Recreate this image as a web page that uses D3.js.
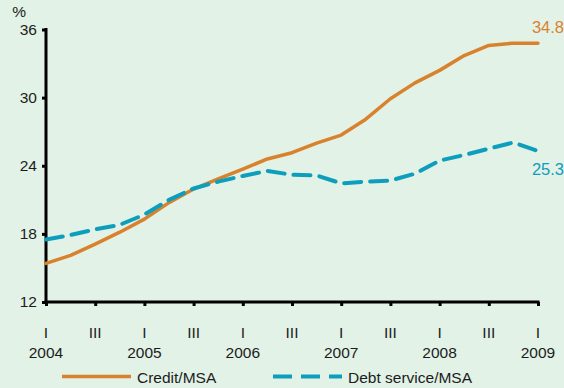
<!DOCTYPE html>
<html><head><meta charset="utf-8">
<script src="https://cdn.jsdelivr.net/npm/d3@7"></script>
<style>
html,body{margin:0;padding:0;background:#e2f2e6;}
svg{display:block;font-family:"Liberation Sans",Arial,sans-serif;}
</style></head>
<body><svg id="c" width="564" height="388"></svg>
<script>
const quarters = d3.range(21); // 2004 Q1 .. 2009 Q1
const credit = [15.4,16.1,17.1,18.15,19.3,20.75,21.95,22.85,23.7,24.6,25.15,26.0,26.7,28.1,29.9,31.3,32.4,33.7,34.6,34.8,34.8];
const debt = [17.5,17.9,18.4,18.8,19.7,21.0,22.0,22.6,23.1,23.55,23.2,23.15,22.45,22.6,22.7,23.3,24.45,24.95,25.5,26.05,25.3];
const yTicks = [12,18,24,30,36];
const qLabels = ["I","III","I","III","I","III","I","III","I","III","I"];
const yearLabels = ["2004","","2005","","2006","","2007","","2008","","2009"];
const seriesNames = ["Credit/MSA","Debt service/MSA"];
const colors = ["#d9822e","#0e9ebd"];

const FS = 15.5;
const TXT = "#1c1c1c";
const svg = d3.select("#c");
const x = d3.scaleLinear().domain([0,20]).range([46,538]);
const y = d3.scaleLinear().domain([12,36]).range([302,29.5]);

// y axis
const yAx = svg.append("g").attr("transform","translate(46,0)")
  .call(d3.axisLeft(y).tickValues(yTicks).tickSize(4).tickPadding(5));
yAx.select(".domain").remove();
yAx.selectAll("line").attr("stroke","#000").attr("stroke-width",3);
yAx.selectAll("text").attr("font-size",FS).attr("fill",TXT).attr("font-family","Liberation Sans, Arial");
svg.append("line").attr("x1",46).attr("x2",46).attr("y1",y(36)-1.5).attr("y2",y(12)+1.5)
  .attr("stroke","#000").attr("stroke-width",3);
svg.append("text").attr("x",26).attr("y",17).attr("text-anchor","end")
  .attr("font-size",FS).attr("fill",TXT).text("%");

// x axis
const tickQ = d3.range(0,21,2);
const xAx = svg.append("g").attr("transform","translate(0,302)")
  .call(d3.axisBottom(x).tickValues(tickQ).tickSize(4).tickFormat(""));
xAx.select(".domain").remove();
xAx.selectAll("line").attr("stroke","#000").attr("stroke-width",3);
svg.append("line").attr("x1",44.5).attr("x2",539.5).attr("y1",302).attr("y2",302)
  .attr("stroke","#000").attr("stroke-width",3);
svg.selectAll(".ql").data(tickQ).enter().append("text")
  .attr("x",d=>x(d)).attr("y",338).attr("text-anchor","middle")
  .attr("font-size",FS).attr("fill",TXT).text((d,i)=>qLabels[i]);
svg.selectAll(".yl").data(tickQ).enter().append("text")
  .attr("x",d=>x(d)).attr("y",358).attr("text-anchor","middle")
  .attr("font-size",FS).attr("fill",TXT).text((d,i)=>yearLabels[i]);

// lines
const line = d3.line().x((d,i)=>x(quarters[i])).y(d=>y(d));
svg.append("path").datum(credit).attr("d",line).attr("fill","none")
  .attr("stroke",colors[0]).attr("stroke-width",3.5).attr("stroke-linecap","round").attr("stroke-linejoin","round");
svg.append("path").datum(debt).attr("d",line).attr("fill","none")
  .attr("stroke",colors[1]).attr("stroke-width",4).attr("stroke-dasharray","17,9").attr("stroke-linecap","round").attr("stroke-linejoin","round");

// end labels
svg.append("text").attr("x",564).attr("y",y(credit[20])-10).attr("text-anchor","end")
  .attr("font-size",16.5).attr("fill",colors[0]).text(credit[20].toFixed(1));
svg.append("text").attr("x",564).attr("y",y(debt[20])+24).attr("text-anchor","end")
  .attr("font-size",16.5).attr("fill",colors[1]).text(debt[20].toFixed(1));

// legend
const lg = svg.append("g");
lg.append("line").attr("x1",62).attr("x2",131).attr("y1",376.5).attr("y2",376.5)
  .attr("stroke",colors[0]).attr("stroke-width",3.5);
lg.append("text").attr("x",137).attr("y",383).attr("font-size",FS).attr("fill",TXT).text(seriesNames[0]);
lg.append("line").attr("x1",273).attr("x2",342).attr("y1",376.5).attr("y2",376.5)
  .attr("stroke",colors[1]).attr("stroke-width",4).attr("stroke-dasharray","19,9");
lg.append("text").attr("x",348).attr("y",383).attr("font-size",FS).attr("fill",TXT).text(seriesNames[1]);
</script></body></html>
